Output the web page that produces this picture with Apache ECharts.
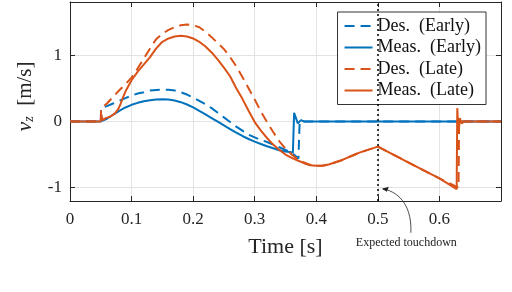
<!DOCTYPE html>
<html>
<head>
<meta charset="utf-8">
<script src="https://cdn.jsdelivr.net/npm/echarts@6/dist/echarts.min.js"></script>
<style>html,body{margin:0;padding:0;background:#fff}#c{width:512px;height:292px}</style>
</head>
<body>
<div id="c"></div>
<script>
// ---- data ----
const seriesNames = ['Des.  (Early)', 'Meas.  (Early)', 'Des.  (Late)', 'Meas.  (Late)'];
const xTicks = [0, 0.1, 0.2, 0.3, 0.4, 0.5, 0.6];
const yTicks = [-1, 0, 1];

const tDesEarly = [0, 0.05, 0.0505, 0.06, 0.07, 0.08, 0.09, 0.1, 0.11, 0.12, 0.13, 0.14, 0.15, 0.16, 0.17, 0.18, 0.19, 0.2, 0.21, 0.22, 0.23, 0.24, 0.25, 0.26, 0.27, 0.28, 0.29, 0.3, 0.31, 0.32, 0.33, 0.34, 0.35, 0.36, 0.371, 0.373, 0.38, 0.7];
const vDesEarly = [0, 0, 0.2, 0.23, 0.27, 0.31, 0.35, 0.39, 0.42, 0.44, 0.465, 0.475, 0.48, 0.478, 0.465, 0.44, 0.405, 0.36, 0.31, 0.26, 0.2, 0.13, 0.06, -0.01, -0.08, -0.14, -0.2, -0.24, -0.28, -0.31, -0.35, -0.39, -0.43, -0.47, -0.56, 0, 0, 0];

const tMeasEarly = [0, 0.05, 0.06, 0.07, 0.08, 0.09, 0.1, 0.11, 0.12, 0.13, 0.14, 0.15, 0.16, 0.17, 0.18, 0.19, 0.2, 0.21, 0.22, 0.23, 0.24, 0.25, 0.26, 0.27, 0.28, 0.29, 0.3, 0.31, 0.32, 0.33, 0.34, 0.35, 0.362, 0.364, 0.367, 0.37, 0.375, 0.38, 0.7];
const vMeasEarly = [0, 0, 0.04, 0.1, 0.16, 0.21, 0.25, 0.28, 0.305, 0.32, 0.33, 0.333, 0.33, 0.315, 0.29, 0.255, 0.21, 0.16, 0.105, 0.05, -0.005, -0.06, -0.115, -0.17, -0.22, -0.265, -0.305, -0.34, -0.375, -0.405, -0.435, -0.455, -0.47, 0.13, 0.05, -0.03, 0.02, 0, 0];

const tDesLate = [0, 0.05, 0.0505, 0.055, 0.06, 0.07, 0.08, 0.09, 0.1, 0.11, 0.12, 0.13, 0.14, 0.15, 0.16, 0.17, 0.18, 0.19, 0.2, 0.21, 0.22, 0.23, 0.24, 0.25, 0.26, 0.27, 0.28, 0.29, 0.3, 0.31, 0.32, 0.33, 0.34, 0.35, 0.36, 0.37, 0.38, 0.39, 0.4, 0.41, 0.42, 0.43, 0.44, 0.45, 0.46, 0.47, 0.48, 0.49, 0.5, 0.55, 0.6, 0.631, 0.632, 0.636, 0.7];
const vDesLate = [0, 0, 0.2, 0.23, 0.27, 0.37, 0.47, 0.56, 0.66, 0.8, 0.95, 1.1, 1.24, 1.32, 1.38, 1.42, 1.45, 1.46, 1.45, 1.42, 1.35, 1.27, 1.18, 1.09, 0.97, 0.83, 0.67, 0.5, 0.33, 0.15, -0.01, -0.16, -0.3, -0.41, -0.5, -0.57, -0.62, -0.655, -0.67, -0.67, -0.65, -0.62, -0.59, -0.55, -0.51, -0.47, -0.44, -0.41, -0.38, -0.62, -0.86, -1.0, 0.02, 0, 0];

const tMeasLate = [0, 0.05, 0.051, 0.053, 0.058, 0.065, 0.073, 0.078, 0.082, 0.086, 0.09, 0.1, 0.11, 0.12, 0.13, 0.14, 0.15, 0.16, 0.17, 0.18, 0.19, 0.2, 0.21, 0.22, 0.23, 0.24, 0.25, 0.26, 0.27, 0.28, 0.29, 0.3, 0.31, 0.32, 0.33, 0.34, 0.35, 0.36, 0.37, 0.38, 0.39, 0.4, 0.41, 0.42, 0.43, 0.44, 0.45, 0.46, 0.47, 0.48, 0.49, 0.5, 0.55, 0.6, 0.628, 0.629, 0.631, 0.633, 0.636, 0.64, 0.7];
const vMeasLate = [0, 0, 0.1, 0.02, 0.05, 0.07, 0.12, 0.18, 0.26, 0.36, 0.45, 0.62, 0.75, 0.86, 0.97, 1.1, 1.2, 1.25, 1.28, 1.29, 1.28, 1.25, 1.2, 1.13, 1.04, 0.93, 0.81, 0.68, 0.5, 0.34, 0.16, -0.01, -0.14, -0.25, -0.35, -0.43, -0.5, -0.55, -0.59, -0.63, -0.66, -0.67, -0.67, -0.65, -0.62, -0.59, -0.55, -0.51, -0.47, -0.44, -0.41, -0.38, -0.62, -0.86, -1.02, 0.2, -0.18, 0.05, -0.03, 0, 0];

const touchdownT = 0.5;
const annotationText = 'Expected touchdown';

// ---- chart ----
const BLUE = '#0072BD', ORANGE = '#D95319';
const FONT = 'Liberation Serif';
const AX = '#262626';
const zip = (t, v) => t.map((x, i) => [x, v[i]]);
const fmt = v => String(Math.round(v * 10) / 10);

const chart = echarts.init(document.getElementById('c'), null, {renderer: 'canvas'});

function mkSeries(name, t, v, color, dashed) {
  return {
    name, type: 'line', data: zip(t, v), showSymbol: false, symbol: 'none',
    lineStyle: {color, width: 2, type: dashed ? [10, 6] : 'solid'},
    itemStyle: {color}, animation: false, z: 3
  };
}

const s = [
  mkSeries(seriesNames[0], tDesEarly, vDesEarly, BLUE, true),
  mkSeries(seriesNames[1], tMeasEarly, vMeasEarly, BLUE, false),
  mkSeries(seriesNames[2], tDesLate, vDesLate, ORANGE, true),
  mkSeries(seriesNames[3], tMeasLate, vMeasLate, ORANGE, false)
];
s[3].markLine = {
  silent: true, symbol: 'none', animation: false,
  label: {show: false},
  lineStyle: {color: '#000', type: [2, 3], width: 1.5},
  data: [{xAxis: touchdownT}]
};

chart.setOption({
  animation: false,
  grid: {left: 70, right: 11, top: 2, bottom: 91, containLabel: false},
  xAxis: [{
    type: 'value', min: 0, max: 0.7, interval: 0.1,
    name: 'Time [s]', nameLocation: 'middle', nameGap: 35,
    nameTextStyle: {fontFamily: FONT, fontSize: 22, color: AX},
    axisLine: {show: true, onZero: false, lineStyle: {color: AX, width: 1}},
    axisTick: {show: true, inside: true, length: 5, lineStyle: {color: AX}},
    axisLabel: {fontFamily: FONT, fontSize: 17, color: AX, margin: 10, showMaxLabel: false, formatter: fmt},
    splitLine: {show: true, lineStyle: {color: '#e3e3e3', width: 1}}
  }, {
    type: 'value', position: 'top', min: 0, max: 0.7, interval: 0.1,
    axisLine: {show: true, onZero: false, lineStyle: {color: AX, width: 1}},
    axisTick: {show: true, inside: true, length: 5, lineStyle: {color: AX}},
    axisLabel: {show: false}, splitLine: {show: false}
  }],
  yAxis: [{
    type: 'value', min: -1.2, max: 1.8,
    name: '{i|v}{s|z}  [m/s]', nameLocation: 'middle', nameGap: 34, nameRotate: 90,
    nameTextStyle: {
      fontFamily: FONT, fontSize: 21, color: AX, padding: [0, 0, 0, 10],
      rich: {
        i: {fontFamily: FONT, fontSize: 22, fontStyle: 'italic', color: AX},
        s: {fontFamily: FONT, fontSize: 14, fontStyle: 'italic', color: AX, verticalAlign: 'bottom', padding: [8, 0, 0, 0]}
      }
    },
    axisLine: {show: true, onZero: false, lineStyle: {color: AX, width: 1}},
    axisTick: {show: true, inside: true, length: 5, lineStyle: {color: AX}, customValues: yTicks},
    axisLabel: {fontFamily: FONT, fontSize: 17, color: AX, margin: 8, customValues: yTicks, formatter: v => String(v)},
    splitLine: {show: true, lineStyle: {color: '#e3e3e3', width: 1}}
  }, {
    type: 'value', position: 'right', min: -1.2, max: 1.8,
    axisLine: {show: true, onZero: false, lineStyle: {color: AX, width: 1}},
    axisTick: {show: true, inside: true, length: 5, lineStyle: {color: AX}, customValues: yTicks},
    axisLabel: {show: false}, splitLine: {show: false}
  }],
  legend: {
    data: seriesNames,
    orient: 'vertical', right: 26, top: 12,
    backgroundColor: '#fff', borderColor: '#333', borderWidth: 1,
    padding: [5, 5, 5, 6], itemGap: 3.5, itemWidth: 28, itemHeight: 16,
    itemStyle: {opacity: 0, borderWidth: 0},
    textStyle: {fontFamily: FONT, fontSize: 18, color: '#111'}
  },
  series: s
});

// annotation: curved arrow from text to the touchdown line near y = -1
const tip = chart.convertToPixel({xAxisIndex: 0, yAxisIndex: 0}, [touchdownT, -1]);
const tx = tip[0] + 4, ty = tip[1] + 1;
chart.setOption({
  graphic: [
    {type: 'text', left: tx - 26, top: ty + 48,
     style: {text: annotationText, font: '12px "Liberation Serif"', fill: '#222'}},
    {type: 'bezierCurve',
     shape: {x1: tx + 29, y1: ty + 44, cpx1: tx + 30, cpy1: ty + 20, cpx2: tx + 20, cpy2: ty + 4, x2: tx + 1, y2: ty},
     style: {stroke: '#222', lineWidth: 0.8, fill: null}},
    {type: 'polygon',
     shape: {points: [[tx, ty], [tx + 7, ty - 2], [tx + 5, ty + 3]]},
     style: {fill: '#222'}}
  ]
});
</script>
</body>
</html>
